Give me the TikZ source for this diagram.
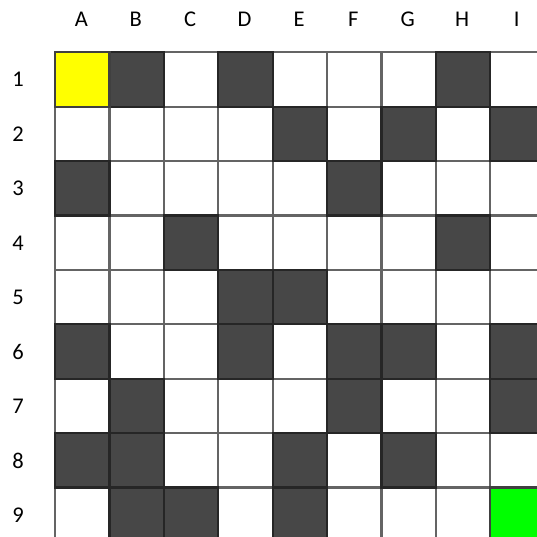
\documentclass[tikz,border=0pt]{standalone}
\usepackage{fontspec}
\setmainfont{Carlito}
\definecolor{wallgray}{RGB}{71,71,71}
\definecolor{linegray}{RGB}{100,100,100}
\definecolor{startyellow}{RGB}{255,255,0}
\definecolor{goalgreen}{RGB}{0,255,0}

\begin{document}
\begin{tikzpicture}[x=1pt,y=-1pt,
 cell/.style={rectangle,draw=linegray,line width=2.2pt,fill=white,minimum size=54.4pt,inner sep=0pt},
 wall/.style={cell,fill=wallgray,draw=black!85},
 start/.style={cell,fill=startyellow,draw=black!75},
 goal/.style={cell,fill=goalgreen,draw=black!75},
 lbl/.style={font=\fontsize{22.5}{27}\selectfont,inner sep=0pt}
]
\clip (0,0) rectangle (537,537);
\fill[white] (0,0) rectangle (537,537);
% column and row labels
\foreach \c [count=\i] in {A,...,I}
  \node[lbl] (col\c) at (55+\i*54.4-28,19.5) {\c};
\foreach \r in {1,...,9}
  \node[lbl] (row\r) at (18,52.3+\r*54.4-27) {\r};
% empty board
\foreach \c [count=\i] in {A,...,I}
  \foreach \r in {1,...,9}
    \node[cell] (\c\r) at (55+\i*54.4-27.2,52.3+\r*54.4-27.2) {};
% walls
\foreach \w in {B1,D1,H1,E2,G2,I2,A3,F3,C4,H4,D5,E5,A6,D6,F6,G6,I6,
                B7,F7,I7,A8,B8,E8,G8,B9,C9,E9}
  \node[wall] (w\w) at (\w) {};
\node[start] (startA1) at (A1) {};
\node[goal] (goalI9) at (I9) {};
\end{tikzpicture}
\end{document}
